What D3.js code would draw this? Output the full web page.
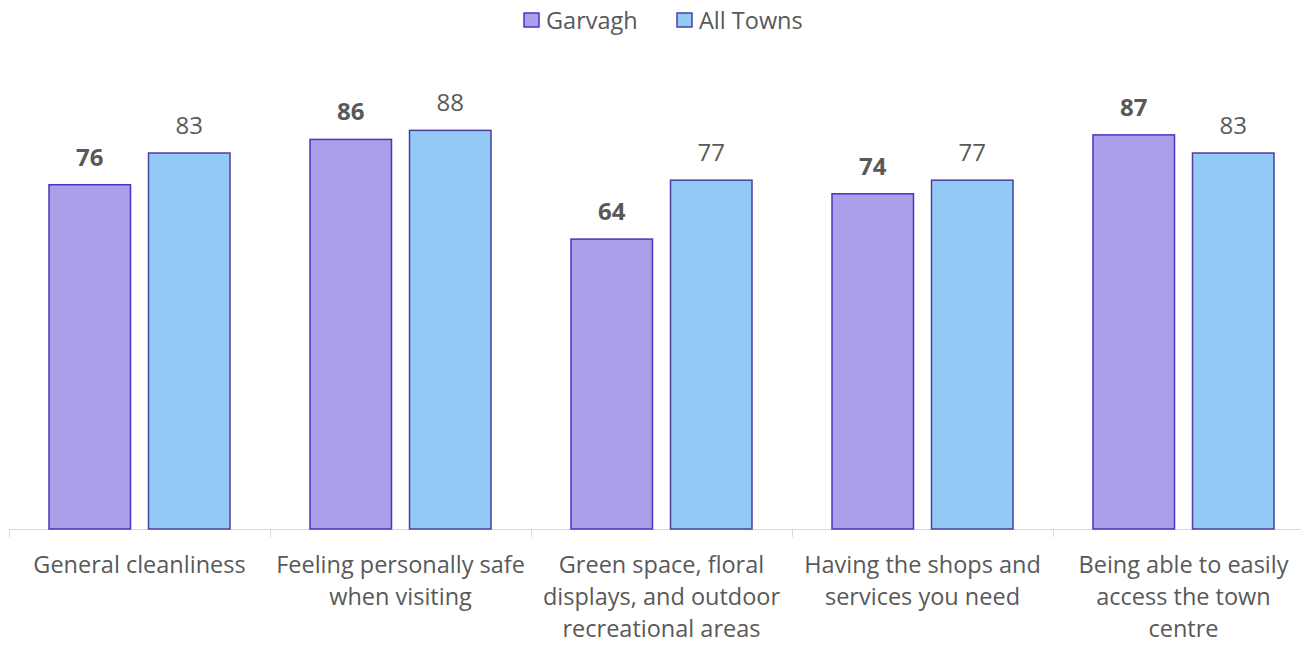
<!DOCTYPE html>
<html>
<head>
<meta charset="utf-8">
<script src="https://cdn.jsdelivr.net/npm/d3@7"></script>
<style>
  html, body { margin: 0; padding: 0; background: #ffffff; }
  svg { display: block; font-family: "Open Sans", "Noto Sans", sans-serif; }
</style>
</head>
<body>
<svg id="chart" width="1301" height="646"></svg>
<script>
// Town centre satisfaction scores (%), Garvagh vs. all towns
const categories = [
  "General cleanliness",
  "Feeling personally safe\nwhen visiting",
  "Green space, floral\ndisplays, and outdoor\nrecreational areas",
  "Having the shops and\nservices you need",
  "Being able to easily\naccess the town\ncentre"
];
const seriesNames = ["Garvagh", "All Towns"];
const garvagh = [76, 86, 64, 74, 87];
const allTowns = [83, 88, 77, 77, 83];

const fills = { "Garvagh": "#ac9ee8", "All Towns": "#93c9f5" };
const strokes = { "Garvagh": "#4b33c4", "All Towns": "#4a3fa0" };
const textColor = "#595959";

const svg = d3.select("#chart");

const baseY = 529;
const x0 = d3.scaleBand().domain(categories).range([9, 1314]).paddingInner(0).paddingOuter(0);
const x1 = d3.scaleBand().domain(seriesNames).range([40, 221]).paddingInner(0.181);
const y = d3.scaleLinear().domain([0, 100]).range([baseY, 76]);

const rows = categories.map((c, i) => ({
  category: c,
  values: [
    { series: "Garvagh", value: garvagh[i] },
    { series: "All Towns", value: allTowns[i] }
  ]
}));

// Category axis along the bottom
const axisG = svg.append("g").attr("transform", `translate(0,${baseY})`);
axisG.append("line")
  .attr("x1", 9).attr("x2", 1301).attr("y1", 0.5).attr("y2", 0.5)
  .attr("stroke", "#d9d9d9").attr("stroke-width", 1);
axisG.selectAll("line.tick")
  .data(categories)
  .join("line")
  .attr("class", "tick")
  .attr("x1", d => Math.round(x0(d)) + 0.5)
  .attr("x2", d => Math.round(x0(d)) + 0.5)
  .attr("y1", 0).attr("y2", 8)
  .attr("stroke", "#d9d9d9");

// Bars
const groups = svg.selectAll("g.cat")
  .data(rows)
  .join("g")
  .attr("class", "cat")
  .attr("transform", d => `translate(${x0(d.category)},0)`);

groups.selectAll("rect")
  .data(d => d.values)
  .join("rect")
  .attr("x", d => x1(d.series))
  .attr("y", d => y(d.value))
  .attr("width", x1.bandwidth())
  .attr("height", d => y(0) - y(d.value))
  .attr("fill", d => fills[d.series])
  .attr("stroke", d => strokes[d.series])
  .attr("stroke-width", 1.5);

// Value labels
groups.selectAll("text.val")
  .data(d => d.values)
  .join("text")
  .attr("class", "val")
  .attr("x", d => x1(d.series) + x1.bandwidth() / 2)
  .attr("y", d => y(d.value) - 19)
  .attr("text-anchor", "middle")
  .attr("fill", textColor)
  .attr("font-size", 24)
  .attr("font-weight", d => d.series === "Garvagh" ? 700 : 400)
  .text(d => d.value);

// Category labels
const catLabels = svg.selectAll("text.cat")
  .data(categories)
  .join("text")
  .attr("class", "cat")
  .attr("text-anchor", "middle")
  .attr("fill", textColor)
  .attr("font-size", 23.5);
catLabels.each(function (d) {
  const t = d3.select(this);
  d.split("\n").forEach((line, i) => {
    t.append("tspan")
      .attr("x", x0(d) + x0.bandwidth() / 2)
      .attr("y", 573 + i * 32)
      .text(line);
  });
});

// Legend
const legendItems = [
  { name: "Garvagh", sx: 524, tx: 546 },
  { name: "All Towns", sx: 677, tx: 699 }
];
const legend = svg.append("g");
legend.selectAll("rect")
  .data(legendItems)
  .join("rect")
  .attr("x", d => d.sx).attr("y", 13)
  .attr("width", 15).attr("height", 14)
  .attr("fill", d => fills[d.name])
  .attr("stroke", d => strokes[d.name])
  .attr("stroke-width", 1.5);
legend.selectAll("text")
  .data(legendItems)
  .join("text")
  .attr("x", d => d.tx).attr("y", 29)
  .attr("fill", textColor)
  .attr("font-size", 23.5)
  .text(d => d.name);
</script>
</body>
</html>
